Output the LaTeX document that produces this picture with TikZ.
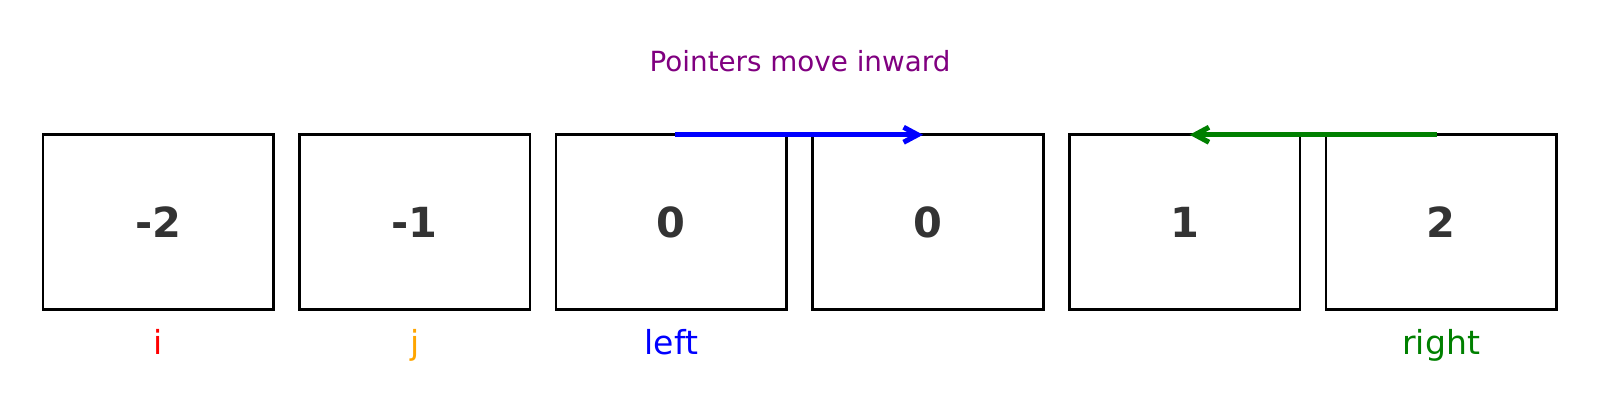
\documentclass[tikz,border=0pt]{standalone}
\usepackage{fontspec}
\setmainfont{DejaVu Sans}
\usepackage{xcolor}
\usepackage{tikz}
\usetikzlibrary{arrows.meta,positioning}

\definecolor{numgray}{HTML}{333333}
\definecolor{ptrgreen}{HTML}{008000}
\definecolor{ptrorange}{HTML}{FFA500}
\definecolor{ptrpurple}{HTML}{800080}

\begin{document}
\begin{tikzpicture}[
    cell/.style={rectangle, draw, line width=0.75pt, minimum width=2.306cm, minimum height=1.745cm, inner sep=0pt, outer sep=0pt, font=\fontsize{11.8}{14}\selectfont\bfseries, text=numgray},
    ptr/.style={font=\fontsize{9.4}{11}\selectfont, text height=0.75em, text depth=0.2em, inner sep=0pt},
    arrow/.style={-{Straight Barb[length=1.4mm,width=1.5mm]}, line width=1.45pt, shorten <=0.04cm, shorten >=0.05cm},
    node distance=0.26cm
]
\useasboundingbox (0,0) rectangle (16,4);

\node[font=\fontsize{7.9}{9}\selectfont, text=ptrpurple, anchor=base] (title) at (8,3.286) {Pointers move inward};

\node[cell] (n1) at (1.582,1.78) {-2};
\node[cell, right=of n1] (n2) {-1};
\node[cell, right=of n2] (n3) {0};
\node[cell, right=of n3] (n4) {0};
\node[cell, right=of n4] (n5) {1};
\node[cell, right=of n5] (n6) {2};

\node[ptr, text=red, below=0.18cm of n1] (pi) {i};
\node[ptr, text=ptrorange, below=0.18cm of n2] (pj) {j};
\node[ptr, text=blue, below=0.18cm of n3] (pleft) {left};
\node[ptr, text=ptrgreen, below=0.18cm of n6] (pright) {right};

\draw[arrow, blue] (n3.north) -- (n4.north);
\draw[arrow, ptrgreen] (n6.north) -- (n5.north);

\end{tikzpicture}
\end{document}
